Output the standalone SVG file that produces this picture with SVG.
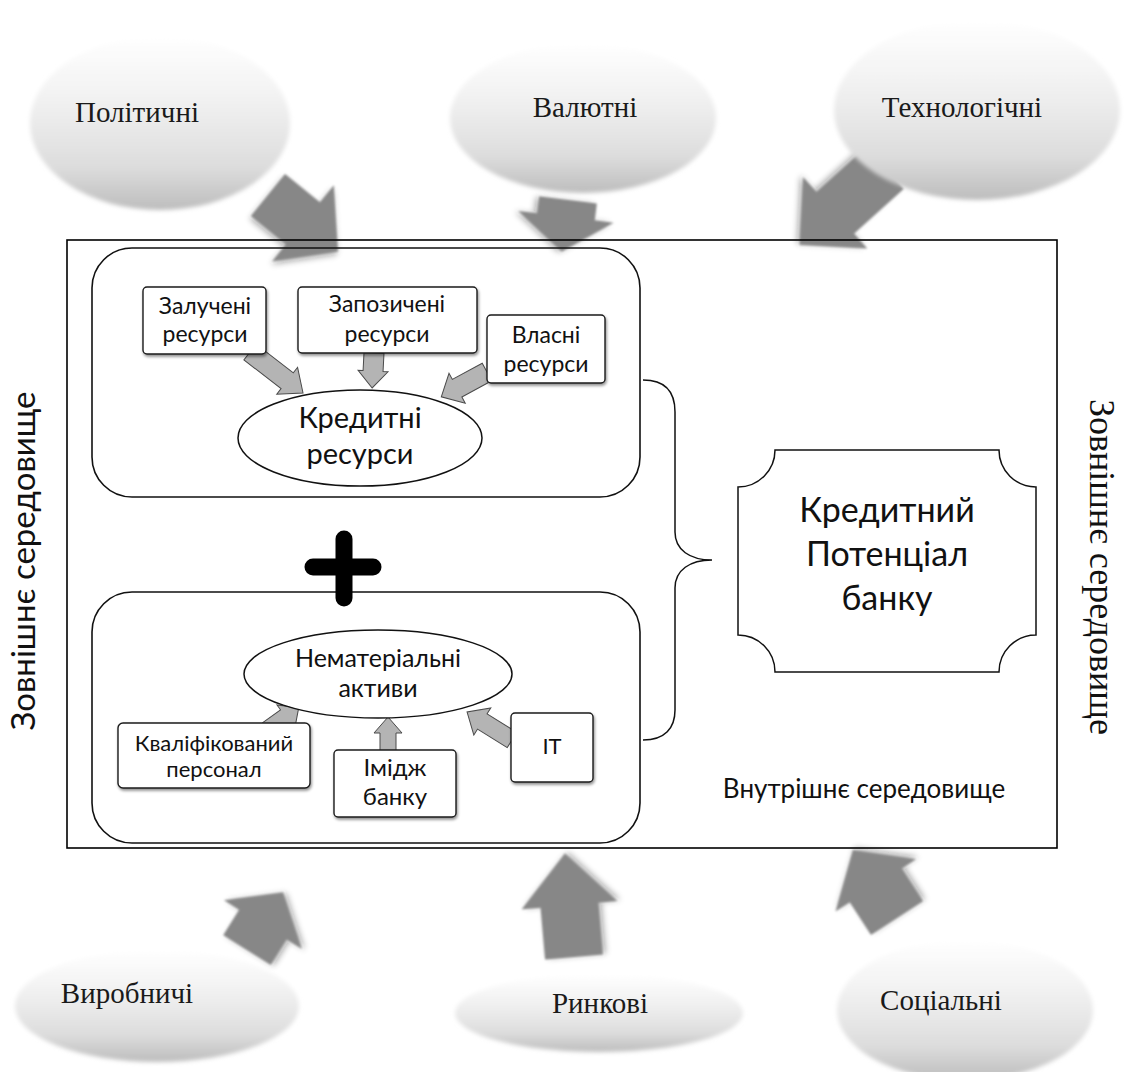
<svg xmlns="http://www.w3.org/2000/svg" width="1124" height="1072" viewBox="0 0 1124 1072">
  <defs>
    <linearGradient id="cloudGrad" x1="0" y1="0" x2="0" y2="1">
      <stop offset="0" stop-color="#ffffff"/>
      <stop offset="0.35" stop-color="#f2f2f2"/>
      <stop offset="0.75" stop-color="#dddddd"/>
      <stop offset="1" stop-color="#bdbdbd"/>
    </linearGradient>
    <filter id="cloudBlur" x="-20%" y="-20%" width="140%" height="140%">
      <feGaussianBlur stdDeviation="2"/>
    </filter>
    <filter id="bigArrowF" x="-30%" y="-30%" width="160%" height="160%">
      <feGaussianBlur in="SourceAlpha" stdDeviation="3"/>
      <feOffset dx="1" dy="3" result="sh"/>
      <feComponentTransfer in="sh" result="sh2"><feFuncA type="linear" slope="0.35"/></feComponentTransfer>
      <feGaussianBlur in="SourceGraphic" stdDeviation="1.2" result="b"/>
      <feMerge><feMergeNode in="sh2"/><feMergeNode in="b"/></feMerge>
    </filter>
    <filter id="boxShadow" x="-10%" y="-10%" width="125%" height="130%">
      <feGaussianBlur in="SourceAlpha" stdDeviation="1.5"/>
      <feOffset dx="1" dy="2" result="s"/>
      <feComponentTransfer in="s" result="s2"><feFuncA type="linear" slope="0.45"/></feComponentTransfer>
      <feMerge><feMergeNode in="s2"/><feMergeNode in="SourceGraphic"/></feMerge>
    </filter>
    <style>
      .cloud { fill: url(#cloudGrad); filter: url(#cloudBlur); }
      .ctext { font-family: "Liberation Serif", "Times New Roman", serif; font-size: 29px; fill: #1a1a1a; text-anchor: middle; }
      .big { fill: #878787; filter: url(#bigArrowF); }
      .small { fill: #b4b4b4; stroke: #4a4a4a; stroke-width: 1; }
      .frame { fill: none; stroke: #000; stroke-width: 1.6; }
      .rbox { fill: none; stroke: #111; stroke-width: 1.6; }
      .sbox { fill: #fff; stroke: #1a1a1a; stroke-width: 1.4; filter: url(#boxShadow); }
      .ell { fill: #fff; stroke: #111; stroke-width: 1.5; }
      .t { font-family: Lato, "Open Sans", sans-serif; fill: #111; text-anchor: middle; }
    </style>
  </defs>

  <rect x="0" y="0" width="1124" height="1072" fill="#ffffff"/>

  <!-- connectors -->
  <g id="connectors">
    <!-- big external arrows -->
    <path class="big" transform="translate(268,195) rotate(39)" d="M0,-27 L45,-27 L45,-49 L90,0 L45,49 L45,27 L0,27 Z"/>
    <path class="big" transform="translate(568,200) rotate(97)" d="M0,-29 L17,-29 L17,-48 L52,0 L17,48 L17,29 L0,29 Z"/>
    <path class="big" transform="translate(885,168) rotate(138)" d="M0,-28 L67,-28 L67,-48 L115,0 L67,48 L67,28 L0,28 Z"/>
    <path class="big" transform="translate(247,950) rotate(-58)" d="M0,-28 L30,-28 L30,-46 L68,0 L30,46 L30,28 L0,28 Z"/>
    <path class="big" transform="translate(574,957) rotate(-95)" d="M0,-29 L52,-29 L52,-48 L104,0 L52,48 L52,29 L0,29 Z"/>
    <path class="big" transform="translate(897,918) rotate(-123)" d="M0,-31 L39,-31 L39,-48 L81,0 L39,48 L39,31 L0,31 Z"/>
    <!-- inner small arrows -->
    <path class="small" transform="translate(250,352) rotate(37.7)" d="M0,-10 L47,-10 L47,-17 L67,0 L47,17 L47,10 L0,10 Z"/>
    <path class="small" transform="translate(374,353) rotate(93)" d="M0,-10 L18,-10 L18,-15 L35,0 L18,15 L18,10 L0,10 Z"/>
    <path class="small" transform="translate(487,372) rotate(151.5)" d="M0,-10 L34,-10 L34,-17 L52,0 L34,17 L34,10 L0,10 Z"/>
    <path class="small" transform="translate(268,730) rotate(-36)" d="M0,-9 L22,-9 L22,-15 L38,0 L22,15 L22,9 L0,9 Z"/>
    <path class="small" transform="translate(388,751) rotate(-90)" d="M0,-8 L18,-8 L18,-14 L34,0 L18,14 L18,8 L0,8 Z"/>
    <path class="small" transform="translate(512,740) rotate(-148)" d="M0,-9 L35,-9 L35,-16 L53,0 L35,16 L35,9 L0,9 Z"/>
    <!-- brace -->
    <path d="M643,380 C665,380 675,392 675,412 L675,532 C675,550 690,560 712,560 C690,560 675,570 675,588 L675,710 C675,728 665,740 643,740" fill="none" stroke="#111" stroke-width="1.5"/>
  </g>

  <!-- external factor clouds -->
  <g id="node-politychni">
    <ellipse class="cloud" cx="160" cy="123" rx="130" ry="87"/>
    <text class="ctext" x="137" y="122">Політичні</text>
  </g>
  <g id="node-valiutni">
    <ellipse class="cloud" cx="583" cy="118" rx="133" ry="75"/>
    <text class="ctext" x="585" y="117">Валютні</text>
  </g>
  <g id="node-tekhnolohichni">
    <ellipse class="cloud" cx="977" cy="110" rx="143" ry="90"/>
    <text class="ctext" x="962" y="117">Технологічні</text>
  </g>
  <g id="node-vyrobnychi">
    <ellipse class="cloud" cx="157" cy="1006" rx="142" ry="56"/>
    <text class="ctext" x="127" y="1003">Виробничі</text>
  </g>
  <g id="node-rynkovi">
    <ellipse class="cloud" cx="599" cy="1013" rx="144" ry="39"/>
    <text class="ctext" x="600" y="1013">Ринкові</text>
  </g>
  <g id="node-sotsialni">
    <ellipse class="cloud" cx="965" cy="1010" rx="128" ry="70"/>
    <text class="ctext" x="941" y="1010">Соціальні</text>
  </g>

  <!-- frames -->
  <g id="node-internal-environment">
    <rect class="frame" x="67" y="240" width="990" height="608"/>
    <text class="t" x="864" y="798" font-size="26">Внутрішнє середовище</text>
  </g>

  <g id="node-credit-resources-group">
    <rect class="rbox" x="92" y="248" width="548" height="249" rx="40" ry="40"/>
  </g>
  <g id="node-intangible-group">
    <rect class="rbox" x="92" y="592" width="548" height="251" rx="40" ry="40"/>
  </g>

  <g id="node-zaluch">
    <rect class="sbox" x="143" y="287" width="123" height="67" rx="4"/>
    <text class="t" x="205" y="314" font-size="23">Залучені</text>
    <text class="t" x="205" y="342" font-size="23">ресурси</text>
  </g>
  <g id="node-zapozych">
    <rect class="sbox" x="298" y="287" width="179" height="66" rx="4"/>
    <text class="t" x="387" y="312" font-size="23">Запозичені</text>
    <text class="t" x="387" y="342" font-size="23">ресурси</text>
  </g>
  <g id="node-vlasni">
    <rect class="sbox" x="487" y="315" width="118" height="68" rx="4"/>
    <text class="t" x="546" y="343" font-size="23">Власні</text>
    <text class="t" x="546" y="372" font-size="23">ресурси</text>
  </g>
  <g id="node-kredytni-resursy">
    <ellipse class="ell" cx="360" cy="438" rx="122" ry="48"/>
    <text class="t" x="360" y="428" font-size="29">Кредитні</text>
    <text class="t" x="360" y="464" font-size="29">ресурси</text>
  </g>

  <g id="node-plus">
    <line x1="313" y1="567" x2="373" y2="567" stroke="#000" stroke-width="17" stroke-linecap="round"/>
    <line x1="344" y1="539" x2="344" y2="598" stroke="#000" stroke-width="17" stroke-linecap="round"/>
  </g>

  <g id="node-nematerialni">
    <ellipse class="ell" cx="378" cy="674" rx="134" ry="44"/>
    <text class="t" x="378" y="667" font-size="25">Нематеріальні</text>
    <text class="t" x="378" y="697" font-size="25">активи</text>
  </g>
  <g id="node-personal">
    <rect class="sbox" x="118" y="723" width="192" height="65" rx="5"/>
    <text class="t" x="214" y="751" font-size="22">Кваліфікований</text>
    <text class="t" x="214" y="777" font-size="22">персонал</text>
  </g>
  <g id="node-imidzh">
    <rect class="sbox" x="334" y="750" width="122" height="67" rx="4"/>
    <text class="t" x="395" y="776" font-size="24">Імідж</text>
    <text class="t" x="395" y="805" font-size="24">банку</text>
  </g>
  <g id="node-it">
    <rect class="sbox" x="511" y="713" width="82" height="69" rx="4"/>
    <text class="t" x="552" y="754" font-size="22">IT</text>
  </g>

  <g id="node-credit-potential">
    <path d="M775,450 L999,450 A37,37 0 0 0 1036,487 L1036,635 A37,37 0 0 0 999,672 L775,672 A37,37 0 0 0 738,635 L738,487 A37,37 0 0 0 775,450 Z" fill="#fff" stroke="#111" stroke-width="1.5"/>
    <text class="t" x="887" y="522" font-size="34">Кредитний</text>
    <text class="t" x="887" y="566" font-size="34">Потенціал</text>
    <text class="t" x="887" y="610" font-size="34">банку</text>
  </g>

  <g id="node-external-left">
    <text class="t" transform="translate(35,561) rotate(-90)" x="0" y="0" font-size="33">Зовнішнє середовище</text>
  </g>
  <g id="node-external-right">
    <text transform="translate(1090,567) rotate(90)" x="0" y="0" font-family="Liberation Serif, Times New Roman, serif" font-size="36" fill="#111" text-anchor="middle">Зовнішнє середовище</text>
  </g>
</svg>
